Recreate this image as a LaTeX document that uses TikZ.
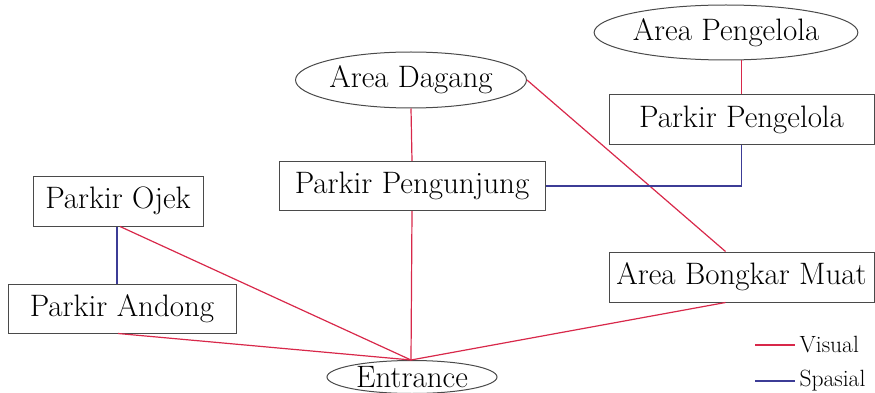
\documentclass[tikz,border=0pt]{standalone}
\usetikzlibrary{shapes.geometric}
\definecolor{visred}{HTML}{D8284A}
\definecolor{spablue}{HTML}{3C3C96}
\definecolor{framegray}{HTML}{4A4A4A}
\begin{document}
\begin{tikzpicture}[x=1pt,y=-1pt,
  every node/.style={font=\fontsize{31}{36}\selectfont, text=black, inner sep=0pt},
  area/.style={ellipse, draw=framegray, line width=1pt},
  zone/.style={rectangle, draw=framegray, line width=1pt},
  visual/.style={draw=visred, line width=1.2pt},
  spatial/.style={draw=spablue, line width=1.2pt},
  legend/.style={font=\fontsize{23.5}{26}\selectfont, anchor=west}]
\useasboundingbox (0,0) rectangle (875,393);

% areas (ellipses)
\node[area, minimum width=228, minimum height=55] (apkl) at (726,32.5) {Area Pengelola};
\node[area, minimum width=228, minimum height=56] (adag) at (411,80) {Area Dagang};
\node[area, minimum width=170, minimum height=33] (entr) at (412,377) {Entrance};

% parking and service zones (boxes)
\node[zone, minimum width=265, minimum height=49] (ppkl) at (741.5,119.5) {Parkir Pengelola};
\node[zone, minimum width=266, minimum height=49] (ppng) at (412,186) {Parkir Pengunjung};
\node[zone, minimum width=170, minimum height=50] (pojk) at (118,201) {Parkir Ojek};
\node[zone, minimum width=228, minimum height=49] (pand) at (122,308.5) {Parkir Andong};
\node[zone, minimum width=265, minimum height=50] (abm) at (741.5,277) {Area Bongkar Muat};

% entrance point on top of the ellipse
\coordinate (etop) at ([xshift=-1pt]entr.north);

% visual relations
\draw[visual] (ppkl.north) -- (ppkl.north |- apkl.south);
\draw[visual] (adag.south) -- (ppng.north);
\draw[visual] (ppng.south) -- (etop);
\draw[visual] (adag.east) -- ([xshift=-16pt]abm.north);
\draw[visual] ([xshift=-16pt]abm.south) -- (etop);
\draw[visual] ([xshift=2pt]pojk.south) -- (etop);
\draw[visual] ([xshift=-4pt]pand.south) -- (etop);

% spatial relations
\draw[spatial] (ppkl.south) |- (ppng.east);
\draw[spatial] ([xshift=-1pt]pojk.south) -- ([xshift=-1pt]pojk.south |- pand.north);

% legend
\coordinate (lv) at (755,345);
\coordinate (ls) at (755,381);
\draw[visual] (lv) -- ++(40,0) node[legend, xshift=4pt] (lvt) {Visual};
\draw[spatial] (ls) -- ++(40,0) node[legend, xshift=4pt] (lst) {Spasial};
\end{tikzpicture}
\end{document}
